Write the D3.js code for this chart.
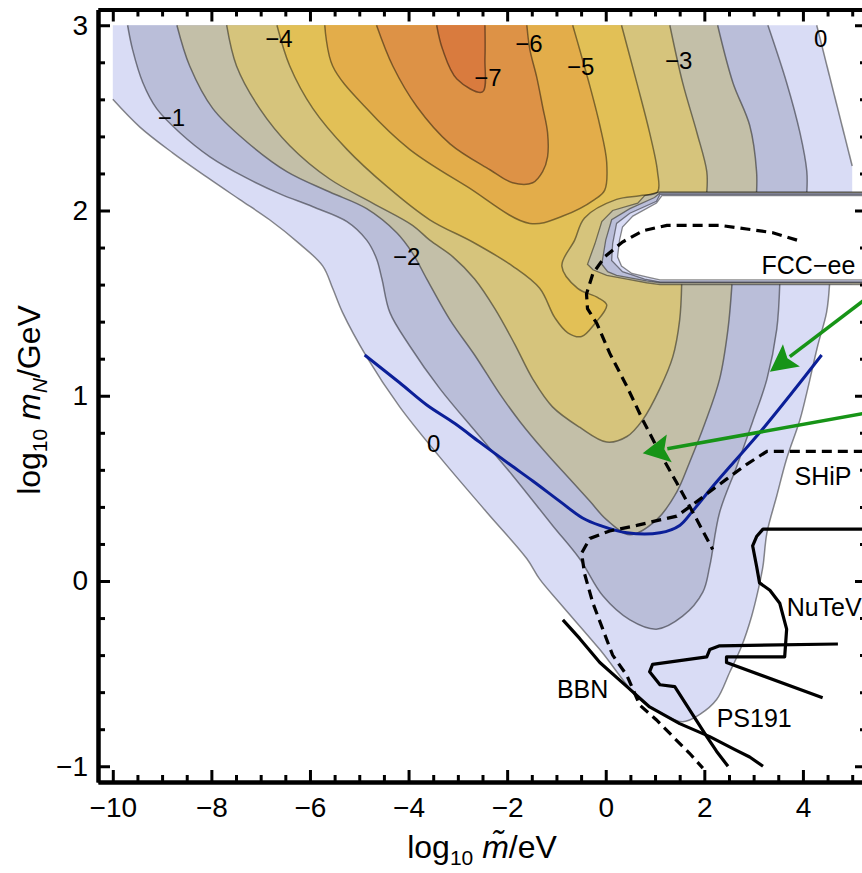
<!DOCTYPE html>
<html>
<head>
<meta charset="utf-8">
<script src="https://cdn.jsdelivr.net/npm/d3@7"></script>
<style>
  body { margin: 0; background: #fff; }
  text { font-family: "Liberation Sans", Arial, sans-serif; fill: #000; }
</style>
</head>
<body>
<svg width="862" height="873"></svg>
<script>
// contour lines, [log10 m~ / eV, log10 mN / GeV]
const c0Left = [[-10.00,2.60],[-9.45,2.45],[-8.78,2.31],[-8.09,2.18],[-7.43,2.06],[-6.82,1.95],[-6.21,1.82],[-5.74,1.70],[-5.54,1.58],[-5.34,1.45],[-4.85,1.21],[-4.18,0.94],[-3.37,0.67],[-2.41,0.37],[-1.60,0.12],[-1.34,0.01],[-0.93,-0.12],[-0.12,-0.37],[0.69,-0.64],[1.10,-0.71],[1.56,-0.76],[1.91,-0.72],[2.25,-0.64],[2.52,-0.49],[2.76,-0.35],[2.96,-0.19],[3.10,-0.04],[3.19,0.08],[3.27,0.26],[3.47,0.46],[3.67,0.66],[3.94,0.87],[4.10,1.04],[4.30,1.27],[4.48,1.45],[4.54,1.60]];
const c0Top = [[4.28,3.00],[5.00,2.24]];
const c1 = [[-9.70,3.00],[-9.60,2.87],[-9.39,2.69],[-9.11,2.55],[-8.64,2.42],[-8.03,2.29],[-7.32,2.18],[-6.61,2.09],[-5.94,2.02],[-5.25,1.94],[-4.85,1.84],[-4.65,1.74],[-4.54,1.63],[-4.38,1.45],[-3.98,1.27],[-3.37,1.04],[-2.62,0.80],[-1.89,0.57],[-1.08,0.30],[-0.53,0.12],[-0.06,-0.08],[0.49,-0.21],[1.03,-0.26],[1.56,-0.19],[1.97,-0.06],[2.11,0.08],[2.31,0.37],[2.66,0.62],[2.98,0.86],[3.27,1.09],[3.47,1.36],[3.53,1.60]];
const c1Top = [[3.29,3.00],[3.67,2.69],[3.94,2.42],[4.08,2.21],[4.08,2.10]];
const c2 = [[-8.70,3.00],[-8.44,2.78],[-7.97,2.55],[-7.28,2.37],[-6.47,2.21],[-5.60,2.10],[-4.85,2.01],[-4.24,1.88],[-3.92,1.77],[-3.63,1.63],[-3.16,1.41],[-2.66,1.22],[-2.15,1.01],[-1.74,0.86],[-1.24,0.70],[-0.73,0.55],[-0.32,0.43],[0.02,0.33],[0.49,0.25],[1.03,0.33],[1.44,0.48],[1.70,0.64],[2.01,0.85],[2.31,1.09],[2.48,1.36],[2.56,1.60]];
const c2Top = [[2.27,3.00],[2.58,2.69],[2.92,2.46],[3.06,2.21],[3.06,2.10]];
const c3 = [[-7.69,3.00],[-7.49,2.78],[-7.02,2.55],[-6.41,2.35],[-5.60,2.17],[-4.73,2.04],[-3.92,1.92],[-3.57,1.84],[-3.10,1.75],[-2.66,1.63],[-2.25,1.47],[-1.85,1.28],[-1.48,1.09],[-1.08,0.94],[-0.53,0.83],[0.02,0.75],[0.43,0.78],[0.75,0.87],[1.10,1.04],[1.36,1.21],[1.50,1.41],[1.54,1.60]];
const c3Top = [[1.30,3.00],[1.56,2.69],[1.85,2.42],[2.05,2.21],[2.05,2.10]];
const c4 = [[-6.67,3.00],[-6.41,2.78],[-5.94,2.55],[-5.25,2.33],[-4.44,2.13],[-3.57,1.95],[-2.70,1.83],[-1.89,1.70],[-1.34,1.58],[-1.03,1.42],[-0.77,1.34],[-0.49,1.32],[-0.22,1.39],[0.02,1.49],[-0.16,1.53],[-0.57,1.58],[-0.89,1.70],[-0.63,1.84],[-0.43,1.96],[0.22,2.06],[0.69,2.08],[1.05,2.10],[1.05,2.21],[0.89,2.42],[0.63,2.69],[0.32,3.00]];
const c5 = [[-5.70,3.00],[-5.54,2.78],[-4.85,2.55],[-3.98,2.33],[-2.82,2.13],[-1.54,1.93],[-0.87,1.97],[-0.22,2.06],[-0.02,2.11],[0.02,2.26],[-0.12,2.46],[-0.32,2.67],[-0.53,2.87],[-0.67,3.00]];
const c6 = [[-4.65,3.00],[-4.32,2.78],[-3.83,2.56],[-3.16,2.36],[-2.35,2.22],[-1.89,2.15],[-1.48,2.15],[-1.28,2.21],[-1.18,2.29],[-1.18,2.42],[-1.28,2.56],[-1.40,2.72],[-1.54,2.87],[-1.60,3.00]];
const c7 = [[-3.43,3.00],[-3.31,2.87],[-3.02,2.71],[-2.50,2.64],[-2.45,2.82],[-2.45,3.00]];

// the gap around log10 mN ~ 1.6..2.1, level -3 (outer) to 0 (inner)
const hole3 = [[5.3,2.10],[1.10,2.10],[0.79,2.08],[0.65,2.04],[0.14,2.00],[-0.08,1.94],[-0.22,1.82],[-0.37,1.71],[-0.26,1.68],[0.02,1.65],[0.43,1.63],[0.83,1.61],[1.10,1.60],[5.3,1.60]];
const hole2 = [[5.3,2.095],[1.10,2.095],[0.99,2.07],[0.49,2.01],[0.12,1.95],[0.00,1.84],[-0.08,1.71],[0.04,1.67],[0.22,1.65],[0.83,1.62],[1.10,1.61],[5.3,1.61]];
const hole1 = [[5.3,2.087],[1.10,2.087],[1.03,2.05],[0.49,1.985],[0.22,1.93],[0.14,1.82],[0.12,1.73],[0.34,1.67],[0.79,1.63],[1.10,1.615],[5.3,1.615]];
const hole0 = [[5.3,2.08],[1.14,2.08],[1.03,2.04],[0.55,1.97],[0.34,1.91],[0.28,1.84],[0.24,1.75],[0.32,1.70],[0.53,1.66],[0.85,1.64],[1.10,1.625],[5.3,1.625]];

const blueCurve = [[-4.89,1.22],[-4.18,1.07],[-3.63,0.95],[-3.06,0.85],[-2.56,0.75],[-1.95,0.63],[-1.48,0.54],[-0.93,0.43],[-0.47,0.34],[-0.12,0.30],[0.43,0.26],[1.10,0.26],[1.50,0.30],[1.77,0.38],[2.17,0.51],[2.66,0.66],[3.12,0.80],[3.79,1.02],[4.38,1.22]];
const fccee = [[3.88,1.84],[3.39,1.88],[2.86,1.90],[2.31,1.92],[1.85,1.92],[1.24,1.92],[0.75,1.89],[0.34,1.83],[-0.02,1.75],[-0.26,1.66],[-0.39,1.55],[-0.37,1.47],[-0.18,1.39],[0.08,1.23],[0.43,1.05],[0.75,0.87],[1.10,0.69],[1.44,0.53],[1.77,0.37],[2.17,0.17]];
const ship = [[5.56,0.70],[3.27,0.70],[2.86,0.63],[2.45,0.55],[2.05,0.47],[1.70,0.40],[1.44,0.35],[1.10,0.33],[0.63,0.30],[0.08,0.27],[-0.32,0.23],[-0.49,0.15],[-0.43,0.04],[-0.26,-0.12],[-0.06,-0.26],[0.14,-0.40],[0.43,-0.51],[0.69,-0.67],[1.03,-0.75],[1.40,-0.85],[1.70,-0.93],[1.97,-1.01]];
const bbn = [[-0.87,-0.21],[-0.53,-0.31],[-0.12,-0.44],[0.43,-0.57],[0.89,-0.68],[1.50,-0.77],[2.11,-0.84],[2.62,-0.91],[2.92,-0.95],[3.19,-1.00]];
const ps191 = [[4.71,-0.34],[2.31,-0.35],[2.11,-0.37],[2.05,-0.41],[0.95,-0.45],[0.89,-0.49],[1.10,-0.56],[1.40,-0.57],[2.05,-0.84],[2.25,-0.92],[2.48,-1.00]];
const nutev = [[5.56,0.28],[3.19,0.28],[3.06,0.24],[2.98,0.19],[3.06,0.08],[3.12,-0.01],[3.33,-0.05],[3.53,-0.12],[3.67,-0.26],[3.63,-0.41],[2.45,-0.41],[2.45,-0.44],[4.40,-0.63]];
const arrows = [[[5.56,1.58],[3.33,1.13]], [[5.56,0.92],[0.75,0.69]]];

const levelColors = ["#d9dcf5","#babed9","#c3bfa8","#d6c47c","#e2c056","#e3ad4a","#dd9246","#d97b3e"];
const contourLabels = [["\u22121",-8.81,2.50],["\u22124",-6.63,2.93],["\u22127",-2.39,2.72],["\u22126",-1.56,2.90],["\u22125",-0.51,2.78],["\u22123",1.48,2.81],["0",4.36,2.93],["\u22122",-4.04,1.75],["0",-3.49,0.74]];
const boundLabels = [["FCC\u2212ee",3.16,1.655],["SHiP",3.83,0.52],["NuTeV",3.67,-0.19],["BBN",-0.99,-0.63],["PS191",2.25,-0.79]];

const xTicks = [-10,-8,-6,-4,-2,0,2,4];
const xMinor = d3.range(-10, 5.01, 0.5).filter(v => v % 2 !== 0);
const yTicks = [-1,0,1,2,3];
const yMinor = d3.range(-1, 3.001, 0.2).filter(v => Math.abs(v - Math.round(v)) > 1e-6);

const svg = d3.select("svg");
const x = d3.scaleLinear().domain([-10.3, 5.3]).range([98, 867]);
const y = d3.scaleLinear().domain([-1.085, 3.085]).range([782, 9.5]);

svg.append("clipPath").attr("id", "plot")
  .append("rect").attr("x", 98).attr("y", 9.5).attr("width", 769).attr("height", 772.5);
const g = svg.append("g").attr("clip-path", "url(#plot)");

const smooth = d3.line().x(d => x(d[0])).y(d => y(d[1])).curve(d3.curveCatmullRom.alpha(0.5));
const straight = d3.line().x(d => x(d[0])).y(d => y(d[1]));

// join pieces into one closed outline, pieces meet with straight segments
function region(pieces) {
  return pieces.map((p, i) => {
    const s = p.length > 1 ? smooth(p) : `M${x(p[0][0])},${y(p[0][1])}`;
    return i ? "L" + s.slice(1) : s;
  }).join("") + "Z";
}
const rev = a => a.slice().reverse();

const regions = [
  [[[-10, 3]], c0Left, [[5.0, 1.60]], rev(c0Top)],
  [c1, rev(c1Top)],
  [c2, rev(c2Top)],
  [c3, rev(c3Top)],
  [c4],
  [c5],
  [c6],
  [c7]
];
g.selectAll("path.band").data(regions).join("path")
  .attr("class", "band")
  .attr("d", region)
  .attr("fill", (d, i) => levelColors[i]);

g.selectAll("path.hole").data([hole3, hole2, hole1, hole0]).join("path")
  .attr("class", "hole")
  .attr("d", d => straight(d) + "Z")
  .attr("fill", (d, i) => i === 3 ? "#fff" : levelColors[2 - i])
  .attr("stroke", "#000").attr("stroke-opacity", 0.45).attr("stroke-width", 1.3);

g.selectAll("path.contour")
  .data([c0Left, c0Top, c1, c1Top, c2, c2Top, c3, c3Top, c4, c5, c6, c7])
  .join("path")
  .attr("class", "contour")
  .attr("d", smooth)
  .attr("fill", "none")
  .attr("stroke", "#000").attr("stroke-opacity", 0.45).attr("stroke-width", 1.5);

g.selectAll("text.clab").data(contourLabels).join("text")
  .attr("class", "clab")
  .attr("x", d => x(d[1])).attr("y", d => y(d[2]))
  .attr("text-anchor", "middle").attr("dominant-baseline", "central")
  .style("font-size", "24px")
  .text(d => d[0]);

g.append("path").attr("d", smooth(blueCurve))
  .attr("fill", "none").attr("stroke", "#0b1f98").attr("stroke-width", 3);

g.selectAll("path.dash").data([fccee, ship]).join("path")
  .attr("class", "dash")
  .attr("d", straight)
  .attr("fill", "none").attr("stroke", "#000").attr("stroke-width", 3.2)
  .attr("stroke-dasharray", "10,6");

g.selectAll("path.bound").data([bbn, ps191, nutev]).join("path")
  .attr("class", "bound")
  .attr("d", straight)
  .attr("fill", "none").attr("stroke", "#000").attr("stroke-width", 3.2)
  .attr("stroke-linejoin", "round");

arrows.forEach(([a, b]) => {
  const x0 = x(a[0]), y0 = y(a[1]), x1 = x(b[0]), y1 = y(b[1]);
  const len = Math.hypot(x1 - x0, y1 - y0), ux = (x1 - x0) / len, uy = (y1 - y0) / len;
  const hl = 27, hw = 14, bx = x1 - ux * hl, by = y1 - uy * hl;
  g.append("line").attr("x1", x0).attr("y1", y0).attr("x2", bx + ux * 2).attr("y2", by + uy * 2)
    .attr("stroke", "#179417").attr("stroke-width", 3.5);
  g.append("path")
    .attr("d", `M${x1},${y1}L${bx - uy * hw},${by + ux * hw}L${bx + ux * 5},${by + uy * 5}L${bx + uy * hw},${by - ux * hw}Z`)
    .attr("fill", "#179417");
});

g.selectAll("text.blab").data(boundLabels).join("text")
  .attr("class", "blab")
  .attr("x", d => x(d[1])).attr("y", d => y(d[2]))
  .style("font-size", "25px")
  .text(d => d[0]);

// frame with inward ticks
function styleAxis(sel) {
  sel.select(".domain").attr("stroke-width", 4);
  sel.selectAll(".tick line").attr("stroke-width", 3);
  sel.selectAll("text").style("font-size", "28px").attr("fill", "#000");
}
const fmt = d => d < 0 ? "\u2212" + Math.abs(d) : String(d);

svg.append("g").attr("transform", "translate(0,782)")
  .call(d3.axisBottom(x).tickValues(xMinor).tickSize(-7).tickSizeOuter(0).tickFormat(""))
  .call(styleAxis);
svg.append("g").attr("transform", "translate(0,782)")
  .call(d3.axisBottom(x).tickValues(xTicks).tickSize(-12).tickSizeOuter(0).tickPadding(15).tickFormat(fmt))
  .call(styleAxis);
svg.append("g").attr("transform", "translate(0,9.5)")
  .call(d3.axisTop(x).tickValues(xMinor).tickSize(-7).tickSizeOuter(0).tickFormat(""))
  .call(styleAxis);
svg.append("g").attr("transform", "translate(0,9.5)")
  .call(d3.axisTop(x).tickValues(xTicks).tickSize(-12).tickSizeOuter(0).tickFormat(""))
  .call(styleAxis);
svg.append("g").attr("transform", "translate(98,0)")
  .call(d3.axisLeft(y).tickValues(yMinor).tickSize(-7).tickSizeOuter(0).tickFormat(""))
  .call(styleAxis);
svg.append("g").attr("transform", "translate(98,0)")
  .call(d3.axisLeft(y).tickValues(yTicks).tickSize(-12).tickSizeOuter(0).tickPadding(10).tickFormat(fmt))
  .call(styleAxis);
svg.append("g").attr("transform", "translate(867,0)")
  .call(d3.axisRight(y).tickValues(yMinor).tickSize(-7).tickSizeOuter(0).tickFormat(""))
  .call(styleAxis);
svg.append("g").attr("transform", "translate(867,0)")
  .call(d3.axisRight(y).tickValues(yTicks).tickSize(-12).tickSizeOuter(0).tickFormat(""))
  .call(styleAxis);

// axis titles
const xt = svg.append("text").attr("x", 482).attr("y", 858)
  .attr("text-anchor", "middle").style("font-size", "32px");
xt.append("tspan").text("log");
xt.append("tspan").attr("dy", 7).style("font-size", "21px").text("10");
xt.append("tspan").attr("dy", -7).text("\u00a0");
xt.append("tspan").style("font-style", "italic").text("m\u0303");
xt.append("tspan").text("/eV");

const yt = svg.append("text").attr("transform", "translate(40,400) rotate(-90)")
  .attr("text-anchor", "middle").style("font-size", "32px");
yt.append("tspan").text("log");
yt.append("tspan").attr("dy", 7).style("font-size", "21px").text("10");
yt.append("tspan").attr("dy", -7).text("\u00a0");
yt.append("tspan").style("font-style", "italic").text("m");
yt.append("tspan").attr("dy", 7).style("font-size", "21px").style("font-style", "italic").text("N");
yt.append("tspan").attr("dy", -7).text("/GeV");
</script>
</body>
</html>
